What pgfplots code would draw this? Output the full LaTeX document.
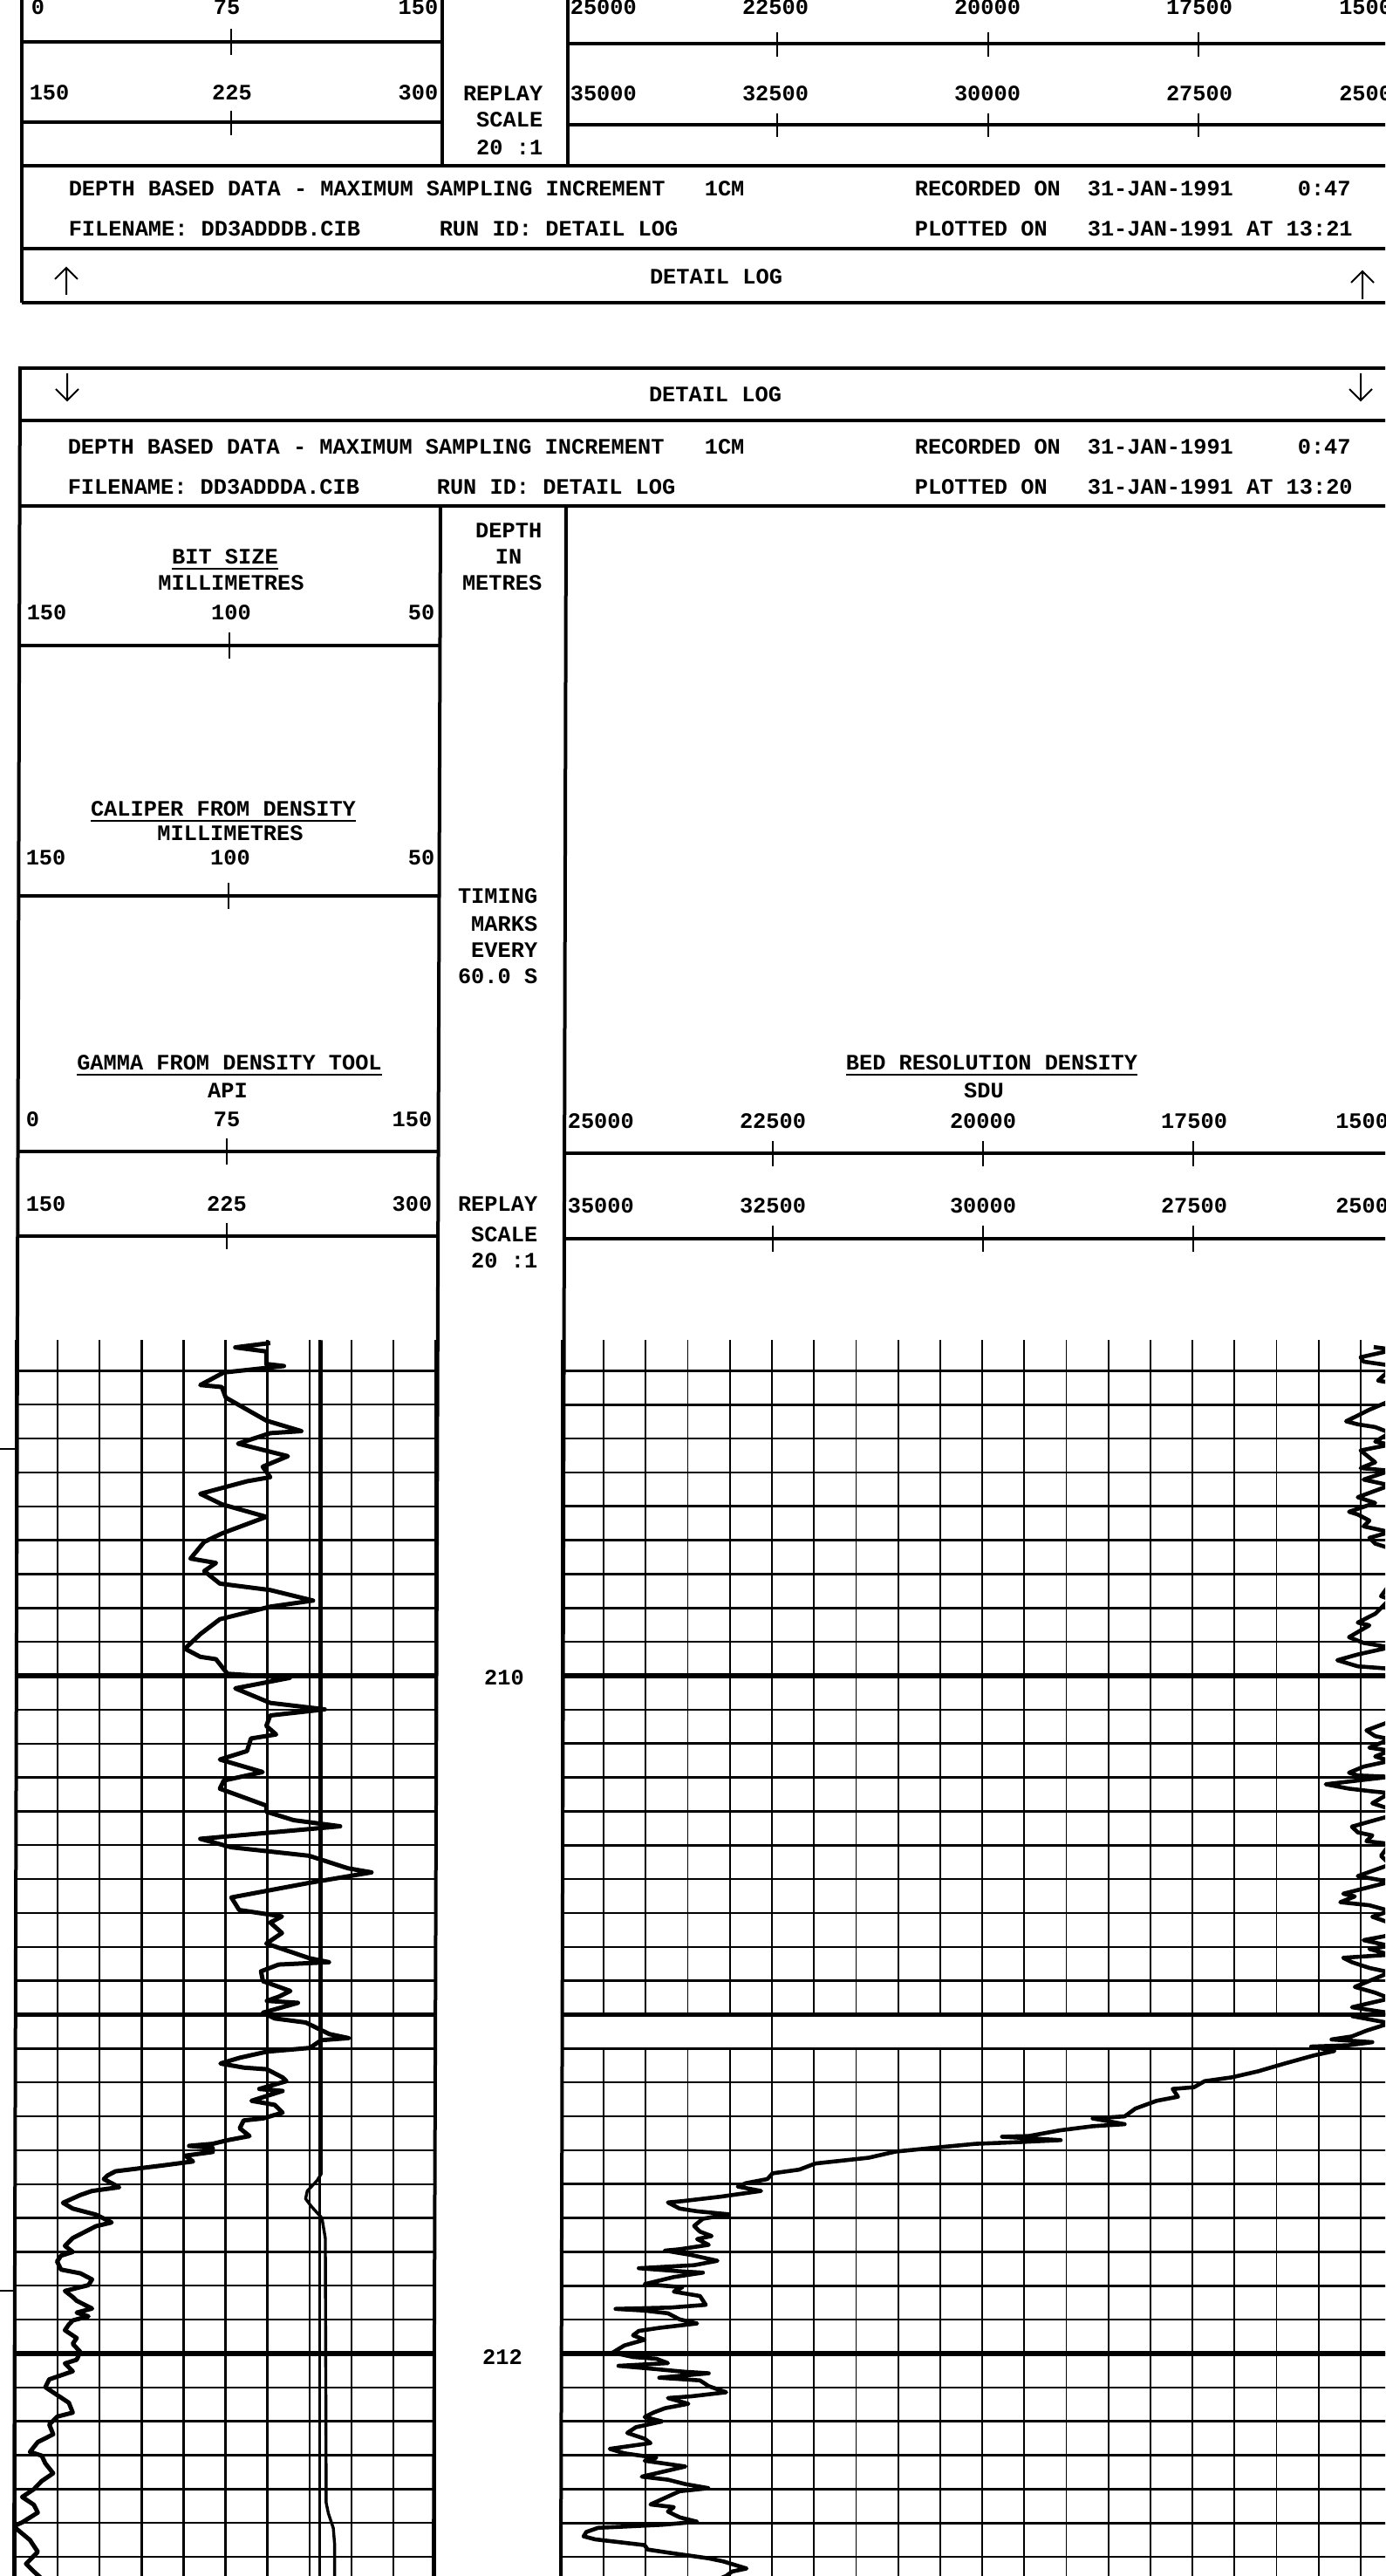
\documentclass[border=0pt]{standalone}
\usepackage{fontspec}
\usepackage{pgfplots}
\pgfplotsset{compat=1.18}
\newfontfamily\plt{Liberation Mono Bold}
\newcommand\pf{\plt\fontsize{6.33pt}{7pt}\selectfont}
\pgfplotsset{
  trk/.style={scale only axis, anchor=north west, y dir=reverse,
    axis line style={draw=none}, major tick length=0pt, minor tick length=0pt,
    scaled x ticks=false, scaled y ticks=false,
    xticklabels={}, yticklabels={}, clip=true},
  every axis plot/.append style={line join=round, mark=none},
}
\begin{document}
\begin{tikzpicture}
\useasboundingbox (0pt,0pt) rectangle (397pt,-738.25pt);
\clip (0pt,0pt) rectangle (397pt,-738.25pt);

% ---------------- GAMMA TRACK (API) ----------------
\begin{axis}[trk, at={(4.5pt,-384.1pt)}, width=120.25pt, height=354.125pt,
  xmin=0, xmax=150, ymin=209.01, ymax=212.656,
  xtick={0,15,...,150}, ytick={209.1,209.2,...,212.6},
  grid=major, major grid style={line width=0.6pt,black},
  extra y ticks={210,211,212}, extra y tick labels={},
  extra y tick style={grid=major, major grid style={line width=1.3pt,black}}]
\addplot[black, line width=1.25pt] coordinates {
(91.0,209.018) (78.5,209.031) (89.6,209.043) (89.6,209.080) (95.9,209.086) (74.4,209.105)
(66.0,209.142) (73.7,209.148) (75.1,209.179) (89.6,209.247) (102.1,209.278) (91.0,209.284)
(79.5,209.315) (97.3,209.352) (88.3,209.383) (91.0,209.414) (82.7,209.426) (66.0,209.463)
(73.7,209.494) (89.6,209.531) (73.7,209.580) (67.4,209.605) (62.5,209.654) (71.6,209.667)
(67.4,209.691) (73.0,209.728) (91.0,209.747) (106.3,209.778) (91.0,209.796) (73.0,209.833)
(66.0,209.877) (60.5,209.920) (66.0,209.944) (71.6,209.951) (75.7,209.994) (98.0,210.006)
(78.5,210.037) (91.0,210.080) (110.5,210.099) (91.0,210.117) (89.6,210.148) (93.1,210.173)
(84.1,210.185) (82.7,210.222) (73.0,210.247) (88.3,210.284) (74.4,210.309) (73.0,210.333)
(89.6,210.383) (89.6,210.401) (99.4,210.426) (116.0,210.444) (66.0,210.481) (77.1,210.506)
(104.9,210.531) (118.8,210.568) (127.2,210.580) (104.9,210.611) (77.1,210.654) (79.9,210.691)
(95.2,210.710) (91.0,210.728) (95.2,210.759) (89.6,210.790) (104.9,210.833) (112.0,210.845)
(94.0,210.852) (87.7,210.872) (88.4,210.901) (98.2,210.930) (94.0,210.947) (89.8,210.959)
(100.9,210.965) (88.4,210.994) (92.6,211.011) (103.7,211.023) (107.9,211.040) (112.1,211.057)
(119.0,211.069) (109.3,211.075) (105.1,211.098) (89.8,211.109) (80.1,211.127) (73.2,211.144)
(81.5,211.156) (89.8,211.161) (95.4,211.185) (96.8,211.196) (87.1,211.219) (95.4,211.225)
(84.3,211.254) (92.6,211.266) (95.4,211.289) (88.4,211.306) (81.5,211.312) (80.1,211.335)
(83.6,211.358) (75.9,211.370) (70.4,211.381) (62.0,211.387) (70.4,211.393) (70.4,211.405)
(60.6,211.416) (63.4,211.433) (52.3,211.445) (35.7,211.462) (32.9,211.474) (31.5,211.485)
(37.0,211.509) (27.3,211.520) (23.1,211.532) (16.9,211.555) (20.4,211.572) (28.7,211.590)
(34.3,211.613) (28.7,211.624) (20.4,211.659) (17.6,211.682) (20.4,211.700) (16.2,211.711)
(14.8,211.728) (16.2,211.752) (23.1,211.763) (27.3,211.781) (26.0,211.798) (17.6,211.815)
(20.4,211.833) (21.8,211.844) (27.3,211.867) (21.8,211.879) (26.0,211.890) (20.4,211.902)
(19.0,211.914) (17.6,211.931) (21.8,211.954) (20.4,211.971) (23.1,211.995) (21.8,212.018)
(17.6,212.029) (20.4,212.052) (12.0,212.076) (10.6,212.099) (14.8,212.122) (19.0,212.145)
(20.4,212.174) (14.8,212.186) (12.0,212.209) (13.4,212.238) (7.9,212.261) (5.1,212.290)
(9.3,212.301) (10.6,212.324) (13.4,212.353) (9.3,212.376) (6.5,212.400) (2.3,212.423)
(6.5,212.446) (7.9,212.469) (2.3,212.498) (-1.0,212.510) (0.0,212.515) (5.1,212.550)
(7.9,212.585) (3.7,212.620) (6.5,212.643) (9.3,212.664)
};
\end{axis}

% ---------------- BIT SIZE / CALIPER (mm, 150 -> 50) ----------------
\begin{axis}[trk, hide axis, at={(4.5pt,-384.1pt)}, width=120.25pt, height=354.125pt,
  xmin=50, xmax=150, x dir=reverse, ymin=209.01, ymax=212.656]
\addplot[black, line width=0.8pt] coordinates {(77.5,209.01) (77.5,212.656)};
\addplot[black, line width=0.85pt] coordinates {
(77.2,209.01) (77.2,211.47) (78.2,211.49) (80.5,211.52) (80.9,211.543) (79.5,211.566)
(77.0,211.60) (76.2,211.66) (76.0,212.44) (75.5,212.47) (74.3,212.515) (74.0,212.56) (74.0,212.656)};
\end{axis}

% ---------------- DENSITY TRACK minor grid (upper / lower) ----------------
\begin{axis}[trk, at={(161pt,-384.1pt)}, width=241pt, height=193.3pt,
  xmin=15000, xmax=25000, x dir=reverse, ymin=209.01, ymax=211.0,
  xtick={15000,17500,20000,22500,25000}, minor x tick num=4, ytick=\empty,
  xminorgrids=true, minor grid style={line width=0.45pt,black}]
\end{axis}
\begin{axis}[trk, at={(161pt,-587.0875pt)}, width=241pt, height=151.1pt,
  xmin=15000, xmax=25000, x dir=reverse, ymin=211.1, ymax=212.656,
  xtick={15000,17500,20000,22500,25000}, minor x tick num=4, ytick=\empty,
  xminorgrids=true, minor grid style={line width=0.45pt,black}]
\end{axis}

% ---------------- DENSITY TRACK main (SDU) ----------------
\begin{axis}[trk, at={(161pt,-384.1pt)}, width=241pt, height=354.125pt,
  xmin=15000, xmax=25000, x dir=reverse, ymin=209.01, ymax=212.656,
  xtick={15000,17500,20000,22500,25000}, ytick={209.1,209.2,...,212.6},
  grid=major, major grid style={line width=0.65pt,black},
  extra y ticks={210,211,212}, extra y tick labels={},
  extra y tick style={grid=major, major grid style={line width=1.3pt,black}}]
\addplot[black, line width=1.15pt] coordinates {
(15343,209.030) (15100,209.038) (15499,209.060) (15464,209.073) (15100,209.086) (15291,209.129)
(15100,209.137) (15150,209.189) (15395,209.215) (15672,209.249) (15533,209.258) (15326,209.266)
(15150,209.283) (15326,209.309) (15150,209.318) (15499,209.335) (15326,209.370) (15499,209.387)
(15150,209.395) (15464,209.421) (15150,209.438) (15533,209.473) (15326,209.490) (15637,209.516)
(15533,209.524) (15395,209.542) (15464,209.559) (15150,209.576) (15395,209.593) (15326,209.610)
(15100,209.628) (15050,209.696) (15256,209.765) (15150,209.774) (15326,209.817) (15533,209.843)
(15395,209.851) (15637,209.886) (15464,209.903) (15150,209.916) (15533,209.937) (15776,209.954)
(15533,209.972) (15100,209.980) (15050,210.075) (15150,210.135) (15430,210.161) (15326,210.178)
(15150,210.187) (15395,210.212) (15150,210.221) (15326,210.238) (15150,210.251) (15464,210.268)
(15637,210.286) (15533,210.294) (15150,210.298) (15464,210.307) (15914,210.320) (15637,210.333)
(15360,210.341) (15150,210.346) (15360,210.376) (15150,210.393) (15100,210.410) (15603,210.445)
(15533,210.462) (15360,210.471) (15430,210.488) (15150,210.496) (15256,210.531) (15150,210.557)
(15533,210.591) (15326,210.600) (15150,210.608) (15706,210.643) (15568,210.651) (15741,210.668)
(15395,210.677) (15150,210.694) (15360,210.711) (15150,210.729) (15100,210.763) (15464,210.780)
(15150,210.797) (15395,210.806) (15150,210.823) (15706,210.832) (15603,210.845) (15395,210.862)
(15150,210.875) (15568,210.918) (15326,210.935) (15150,210.952) (15603,210.978) (15150,210.995)
(15603,211.004) (15150,211.025) (15430,211.047) (15603,211.064) (15845,211.073) (15360,211.081)
(15637,211.090) (16087,211.094) (15810,211.107) (16053,211.120) (16402,211.144) (16719,211.167)
(17036,211.185) (17354,211.196) (17481,211.214) (17734,211.219) (17671,211.242) (17925,211.254)
(18178,211.277) (18305,211.300) (18686,211.306) (18305,211.323) (18686,211.329) (19070,211.341)
(19447,211.358) (19764,211.360) (19066,211.370) (19574,211.376) (20081,211.381) (20589,211.393)
(21033,211.404) (21350,211.422) (21984,211.439) (22174,211.457) (22492,211.468) (22555,211.485)
(22809,211.497) (22906,211.507) (22629,211.520) (23114,211.537) (23564,211.550) (23737,211.554)
(23598,211.572) (23390,211.580) (23010,211.589) (23321,211.602) (23425,211.623) (23356,211.640)
(23217,211.653) (23390,211.662) (23252,211.679) (23598,211.692) (23771,211.696) (23460,211.709)
(23148,211.726) (23425,211.739) (24083,211.748) (23598,211.757) (23321,211.761) (23667,211.774)
(24014,211.795) (23564,211.804) (23667,211.817) (23356,211.830) (23287,211.856) (23702,211.864)
(24360,211.868) (24014,211.873) (23737,211.881) (23598,211.899) (23390,211.911) (23840,211.924)
(24083,211.933) (24152,211.946) (24014,211.959) (24256,211.976) (24394,211.997) (24152,212.010)
(23875,212.015) (23737,212.028) (24325,212.036) (23910,212.045) (23564,212.053) (23252,212.058)
(23840,212.071) (23356,212.079) (23252,212.096) (23044,212.114) (23460,212.126) (23737,212.131)
(23494,212.148) (23771,212.161) (23910,212.174) (24014,212.187) (23806,212.200) (24117,212.217)
(24221,212.234) (24014,212.251) (23944,212.264) (24429,212.281) (24256,212.294) (24117,212.299)
(23875,212.307) (24014,212.316) (23529,212.333) (24048,212.363) (23737,212.372) (23529,212.385)
(23252,212.397) (23598,212.406) (23944,212.445) (23667,212.453) (23737,212.466) (23598,212.483)
(23390,212.496) (23806,212.505) (24567,212.514) (24706,212.526) (24740,212.539) (24602,212.548)
(24014,212.565) (23979,212.578) (23737,212.587) (23252,212.604) (23079,212.613) (22802,212.634)
(22975,212.643) (23044,212.656) (23114,212.663)
};
\end{axis}

\begin{scope}[x=0.25pt,y=-0.25pt,
  T/.style={font=\pf,inner sep=0pt,anchor=base west},
  TC/.style={font=\pf,inner sep=0pt,anchor=base},
  TR/.style={font=\pf,inner sep=0pt,anchor=base east},
  frame/.style={line width=1pt,black},
  tk/.style={line width=0.5pt,black}]
% ================= TOP FRAGMENT (previous log header) =================
\draw[frame] (25,-5)--(25,347);
\draw[frame] (507,-5)--(507,190);
\draw[frame] (651,-5)--(651,190);
\draw[frame] (25,48)--(507,48);   \draw[tk] (265,33)--(265,63);
\draw[frame] (25,140)--(507,140); \draw[tk] (265,127)--(265,155);
\draw[frame] (651,50)--(1600,50);
\foreach \xx in {891,1133,1374} {\draw[tk] (\xx,37)--(\xx,65);}
\draw[frame] (651,143)--(1600,143);
\foreach \xx in {891,1133,1374} {\draw[tk] (\xx,130)--(\xx,157);}
\draw[frame] (25,190)--(1600,190);
\draw[frame] (25,285)--(1600,285);
\draw[frame] (25,347)--(1600,347);
\node[T] at (35,17) {0}; \node[TC] at (260,17) {75}; \node[TR] at (503,17) {150};
\node[T] at (33,115) {150}; \node[TC] at (266,115) {225}; \node[TR] at (503,115) {300};
\node[T] at (653,17) {25000}; \node[TC] at (889,17) {22500}; \node[TC] at (1132,17) {20000};
\node[TC] at (1375,17) {17500}; \node[TR] at (1612,17) {15000};
\node[T] at (653,116) {35000}; \node[TC] at (889,116) {32500}; \node[TC] at (1132,116) {30000};
\node[TC] at (1375,116) {27500}; \node[TR] at (1612,116) {25000};
\node[TR] at (623,116) {REPLAY}; \node[TR] at (623,146) {SCALE}; \node[TR] at (623,178) {20 :1};
\node[T] at (78,225) {DEPTH BASED DATA - MAXIMUM SAMPLING INCREMENT};
\node[T] at (807,225) {1CM};
\node[T] at (1048,225) {RECORDED ON}; \node[T] at (1246,225) {31-JAN-1991}; \node[T] at (1487,225) {0:47};
\node[T] at (78,271) {FILENAME: DD3ADDDB.CIB}; \node[T] at (503,271) {RUN ID: DETAIL LOG};
\node[T] at (1048,271) {PLOTTED ON}; \node[T] at (1246,271) {31-JAN-1991 AT 13:21};
\draw[line width=0.5pt] (76,338)--(76,307) (63,320)--(76,307)--(89,320);
\draw[line width=0.5pt] (1562,343)--(1562,311) (1549,324)--(1562,311)--(1575,324);
\node[TC] at (821,326) {DETAIL LOG};

% ================= LOWER LOG HEADER =================
\draw[frame] (23,422)--(1600,422);
\draw[frame] (23,482)--(1600,482);
\draw[frame] (23,580)--(1600,580);
\draw[frame] (23,420)--(16,2960);
\draw[frame] (505,580)--(497,2960);
\draw[frame] (649,580)--(643,2960);
\draw[line width=0.5pt] (77,428)--(77,459) (64,446)--(77,459)--(90,446);
\draw[line width=0.5pt] (1560,428)--(1560,459) (1547,446)--(1560,459)--(1573,446);
\node[TC] at (820,461) {DETAIL LOG};
\node[T] at (77,520) {DEPTH BASED DATA - MAXIMUM SAMPLING INCREMENT};
\node[T] at (807,520) {1CM};
\node[T] at (1048,520) {RECORDED ON}; \node[T] at (1246,520) {31-JAN-1991}; \node[T] at (1487,520) {0:47};
\node[T] at (77,566) {FILENAME: DD3ADDDA.CIB}; \node[T] at (500,566) {RUN ID: DETAIL LOG};
\node[T] at (1048,566) {PLOTTED ON}; \node[T] at (1246,566) {31-JAN-1991 AT 13:20};

% gamma track header
\node[TC] at (258,646) {\underline{BIT SIZE}};
\node[TC] at (265,676) {MILLIMETRES};
\node[T] at (30,710) {150}; \node[TC] at (265,710) {100}; \node[TR] at (499,710) {50};
\draw[frame] (23,740)--(505,740); \draw[tk] (263,725)--(263,755);
\node[TC] at (256,935) {\underline{CALIPER FROM DENSITY}};
\node[TC] at (264,963) {MILLIMETRES};
\node[T] at (29,991) {150}; \node[TC] at (264,991) {100}; \node[TR] at (499,991) {50};
\draw[frame] (22,1027)--(504,1027); \draw[tk] (262,1012)--(262,1042);
\node[TC] at (263,1226) {\underline{GAMMA FROM DENSITY TOOL}};
\node[TC] at (261,1258) {API};
\node[T] at (29,1291) {0}; \node[TC] at (260,1291) {75}; \node[TR] at (496,1291) {150};
\draw[frame] (21,1320)--(503,1320); \draw[tk] (260,1305)--(260,1335);
\node[T] at (29,1388) {150}; \node[TC] at (260,1388) {225}; \node[TR] at (496,1388) {300};
\draw[frame] (21,1417)--(503,1417); \draw[tk] (260,1402)--(260,1432);

% depth track
\node[TR] at (622,616) {DEPTH}; \node[TC] at (583,646) {IN}; \node[TR] at (622,676) {METRES};
\node[TR] at (617,1035) {TIMING}; \node[TR] at (617,1067) {MARKS};
\node[TR] at (617,1097) {EVERY}; \node[TR] at (617,1127) {60.0 S};
\node[TR] at (617,1388) {REPLAY}; \node[TR] at (617,1423) {SCALE}; \node[TR] at (617,1453) {20 :1};
\node[TC] at (578,1931) {210};
\node[TC] at (576,2710) {212};

% density header
\node[TC] at (1137,1226) {\underline{BED RESOLUTION DENSITY}};
\node[TC] at (1128,1258) {SDU};
\node[T] at (650,1293) {25000}; \node[TC] at (886,1293) {22500}; \node[TC] at (1127,1293) {20000};
\node[TC] at (1369,1293) {17500}; \node[TR] at (1608,1293) {15000};
\draw[frame] (648,1322)--(1600,1322);
\foreach \xx in {886,1127,1368} {\draw[tk] (\xx,1308)--(\xx,1337);}
\node[T] at (650,1390) {35000}; \node[TC] at (886,1390) {32500}; \node[TC] at (1127,1390) {30000};
\node[TC] at (1369,1390) {27500}; \node[TR] at (1608,1390) {25000};
\draw[frame] (648,1420)--(1600,1420);
\foreach \xx in {886,1127,1368} {\draw[tk] (\xx,1405)--(\xx,1435);}

% timing marks outside the frame
\draw[line width=0.5pt] (0,1661)--(20,1661);
\draw[line width=0.5pt] (0,2626)--(17,2626);
\end{scope}
\end{tikzpicture}
\end{document}
